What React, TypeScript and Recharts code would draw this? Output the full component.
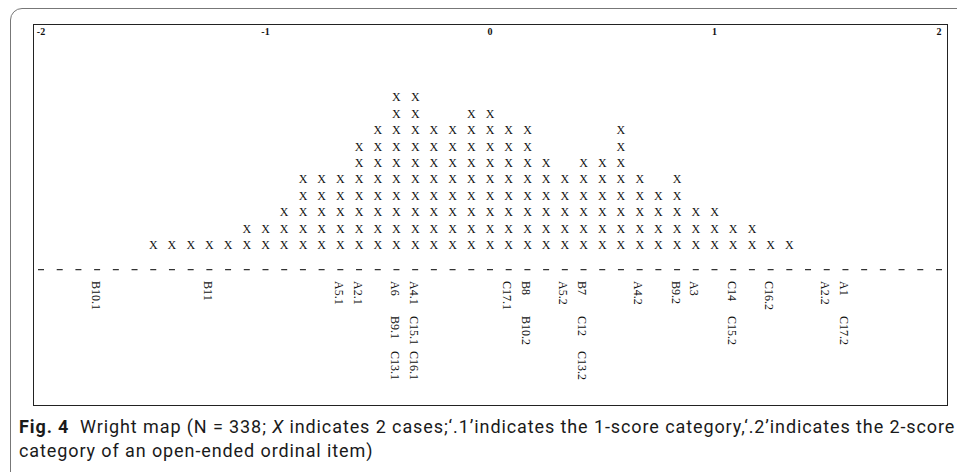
import React from 'react';
import { ScatterChart, Scatter, XAxis, YAxis, ReferenceLine } from 'recharts';

// logit scale ticks along the top
const tickValues = [-2, -1, 0, 1, 2];

// person measures: one column per 1/12-logit bin, each X = 2 cases
const personLogits = [
  -1.5, -1.417, -1.333, -1.25, -1.167, -1.083, -1.0, -0.917, -0.833, -0.75, -0.667, -0.583,
  -0.5, -0.417, -0.333, -0.25, -0.167, -0.083, 0, 0.083, 0.167, 0.25, 0.333, 0.417,
  0.5, 0.583, 0.667, 0.75, 0.833, 0.917, 1.0, 1.083, 1.167, 1.25, 1.333,
];
const personCounts = [
  1, 1, 1, 1, 1, 2, 2, 3, 5, 5, 5, 7,
  8, 10, 10, 8, 8, 9, 9, 8, 8, 6, 5, 6,
  6, 8, 5, 4, 5, 3, 3, 2, 2, 1, 1,
];

// item thresholds
const itemLogits = [-1.75, -1.25, -0.667, -0.583, -0.417, -0.333, 0.083, 0.167, 0.333, 0.417, 0.667, 0.833, 0.917, 1.083, 1.25, 1.5, 1.583];
const itemLabels = [
  ['B10.1'], ['B11'], ['A5.1'], ['A2.1'], ['A6', 'B9.1', 'C13.1'], ['A4.1', 'C15.1', 'C16.1'],
  ['C17.1'], ['B8', 'B10.2'], ['A5.2'], ['B7', 'C12', 'C13.2'], ['A4.2'], ['B9.2'], ['A3'],
  ['C14', 'C15.2'], ['C16.2'], ['A2.2'], ['A1', 'C17.2'],
];

const serif = "'Liberation Serif', 'Times New Roman', serif";
const DIVIDER_Y = -0.5;
const LABEL_Y = -1.2;
const halfDash = 3 / 224.5;

const personPoints = personLogits.flatMap((logit, i) =>
  Array.from({ length: personCounts[i] }, (_, j) => ({ x: logit, y: j + 1 }))
);
const itemPoints = itemLogits.map((logit, i) => ({ x: logit, y: LABEL_Y, labels: itemLabels[i] }));

const XMark = (props: any) => {
  const { cx, cy } = props;
  return (
    <text x={cx} y={cy} dy={4} textAnchor="middle" fontFamily={serif} fontSize={12} fill="#111">
      X
    </text>
  );
};

const ItemLabel = (props: any) => {
  const { cx, cy, payload } = props;
  return (
    <g transform={`rotate(90, ${cx}, ${cy})`}>
      {payload.labels.map((s: string, i: number) => (
        <text key={s} x={cx + i * 35} y={cy} dy={5.5} textAnchor="start" fontFamily={serif} fontSize={12} fill="#111">
          {s}
        </text>
      ))}
    </g>
  );
};

const TopTick = (props: any) => {
  const { x, payload } = props;
  return (
    <text x={x} y={35} textAnchor="middle" fontFamily={serif} fontSize={10} fontWeight="bold" fill="#111">
      {payload.value}
    </text>
  );
};

export default function App() {
  return (
    <div style={{ position: 'absolute', left: 0, top: 0, width: 957, height: 472, overflow: 'hidden', background: '#fff' }}>
      <div
        style={{
          position: 'absolute', left: 10, top: 8, width: 970, height: 490,
          border: '1.5px solid #777', borderRadius: 12, boxSizing: 'border-box',
        }}
      />
      <div
        style={{
          position: 'absolute', left: 33, top: 24, width: 915, height: 382,
          border: '1.5px solid #222', boxSizing: 'border-box',
        }}
      />
      <div style={{ position: 'absolute', left: 0, top: 0 }}>
        <ScatterChart width={957} height={472} margin={{ top: 18.2, right: 18, bottom: 79.4, left: 41 }}>
          <XAxis
            type="number"
            dataKey="x"
            orientation="top"
            height={30}
            domain={[-2, 2]}
            ticks={tickValues}
            axisLine={false}
            tickLine={false}
            tick={<TopTick />}
          />
          <YAxis type="number" dataKey="y" domain={[-8, 13]} hide />
          <ReferenceLine
            segment={[{ x: -2 - halfDash, y: DIVIDER_Y }, { x: 2 + halfDash, y: DIVIDER_Y }]}
            ifOverflow="visible"
            stroke="#333"
            strokeWidth={1.4}
            strokeDasharray="6 12.708"
          />
          <Scatter data={personPoints} shape={<XMark />} isAnimationActive={false} />
          <Scatter data={itemPoints} shape={<ItemLabel />} isAnimationActive={false} />
        </ScatterChart>
      </div>
      <div
        style={{
          position: 'absolute', left: 19, top: 414.5, fontFamily: "Roboto, 'Noto Sans', sans-serif",
          fontSize: 18, lineHeight: '24px', letterSpacing: 0.9, color: '#1a1a1a', whiteSpace: 'nowrap',
        }}
      >
        <b>Fig. 4</b>&nbsp; Wright map (N = 338; <i>X</i> indicates 2 cases;‘.1’indicates the 1-score category,‘.2’indicates the 2-score
        <br />
        category of an open-ended ordinal item)
      </div>
    </div>
  );
}
